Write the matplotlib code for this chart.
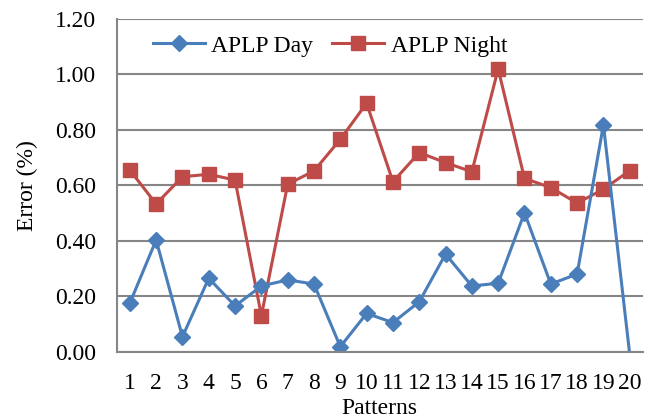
import matplotlib
matplotlib.use('Agg')
import matplotlib.pyplot as plt
import numpy as np

patterns = list(range(1, 21))
aplp_day = [0.175, 0.403, 0.054, 0.265, 0.165, 0.237, 0.259, 0.244, 0.018, 0.138,
            0.105, 0.180, 0.352, 0.237, 0.247, 0.501, 0.244, 0.280, 0.818, -0.01]
aplp_night = [0.655, 0.533, 0.631, 0.640, 0.619, 0.130, 0.604, 0.652, 0.766, 0.896,
              0.613, 0.718, 0.682, 0.649, 1.020, 0.625, 0.592, 0.536, 0.586, 0.653]
yticks = [0.0, 0.2, 0.4, 0.6, 0.8, 1.0, 1.2]

plt.rcParams['font.family'] = ['Liberation Serif', 'DejaVu Serif']
plt.rcParams['font.size'] = 17

grey = '#868686'
blue = '#4A7EBB'
red = '#BE4B48'

fig = plt.figure(figsize=(6.54, 4.19), dpi=100)
ax = fig.add_axes([0.1784, 0.1606, 0.983 - 0.1784, 0.9547 - 0.1606])

x = np.array(patterns)
# markers are only drawn for points that fall inside the value range
day_marks = [i for i, v in enumerate(aplp_day) if 0 <= v <= 1.2]
ax.plot(x, aplp_day, color=blue, lw=2.2, marker='D', ms=7.8, markevery=day_marks,
        label='APLP Day', zorder=3)
ax.plot(x, aplp_night, color=red, lw=2.2, marker='s', ms=10.5,
        label='APLP Night', zorder=2)

ax.set_xlim(0.5, 20.5)
ax.set_ylim(0, 1.2)
ax.set_xticks(x)
ax.set_xticklabels([str(p) for p in patterns])
ax.set_yticks(yticks)
ax.set_yticklabels(['%.2f' % t for t in yticks])
ax.tick_params(axis='both', length=0)
ax.tick_params(axis='x', pad=15)
ax.tick_params(axis='y', pad=15)

ax.grid(axis='y', color=grey, lw=1.5)
ax.set_axisbelow(True)
for side in ['top', 'right']:
    ax.spines[side].set_visible(False)
for side in ['left', 'bottom']:
    ax.spines[side].set_color(grey)
    ax.spines[side].set_linewidth(1.5)
    ax.spines[side].set_zorder(4)

ax.set_xlabel('Patterns', labelpad=3)
ax.set_ylabel('Error (%)', labelpad=12)

ax.legend(loc='center left', bbox_to_anchor=(0.069, 0.919), ncol=2, frameon=False,
          borderpad=0, borderaxespad=0, handlelength=2.2, handletextpad=0.27,
          columnspacing=0.8, fontsize=17)

fig.savefig('out.png', dpi=100)
